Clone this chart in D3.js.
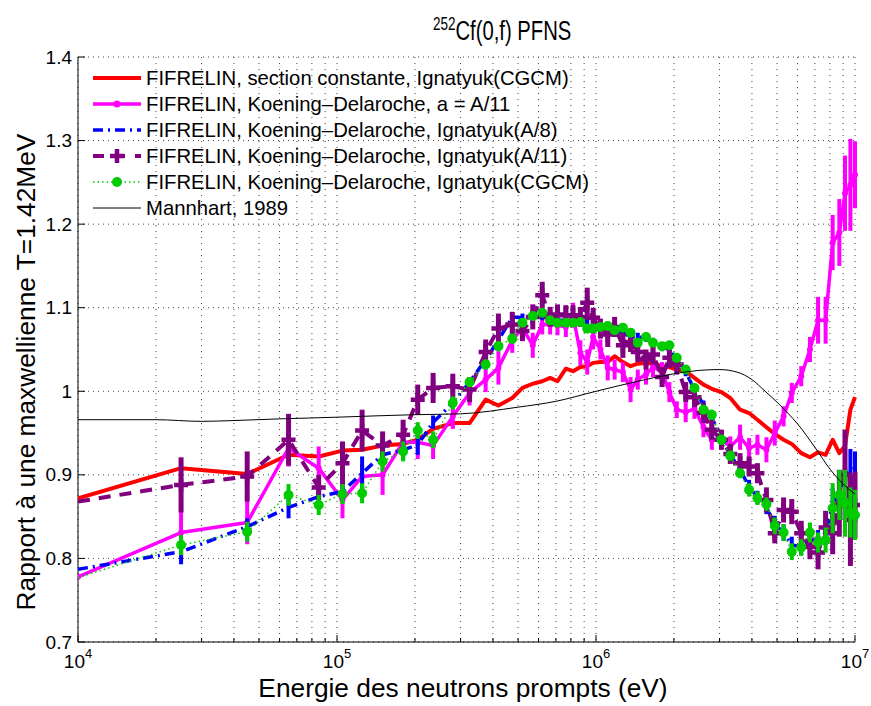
<!DOCTYPE html>
<html><head><meta charset="utf-8">
<script src="https://cdn.jsdelivr.net/npm/d3@7"></script>
<style>
body{margin:0;background:#fff;}
text{font-family:"Liberation Sans", Arial, Helvetica, sans-serif;fill:#000;}
</style></head><body>
<svg id="c" width="871" height="706"></svg>
<script>
// ---- data ----
const energy = [1e4,2.5e4,4.5e4,6.5e4,8.5e4,1.05e5,1.25e5,1.5e5,1.8e5,2.05e5,
  2.35e5,2.8e5,3.25e5,3.75e5,4.2e5,4.75e5,5.2e5,5.7e5,6.2e5,6.65e5,
  7.1e5,7.65e5,8.15e5,8.7e5,9.25e5,9.75e5,1.04e6,1.11e6,1.18e6,1.27e6,
  1.36e6,1.45e6,1.56e6,1.66e6,1.8e6,1.92e6,2.05e6,2.22e6,2.4e6,2.6e6,
  2.8e6,3.05e6,3.3e6,3.6e6,3.9e6,4.2e6,4.55e6,4.9e6,5.3e6,5.7e6,
  6.2e6,6.7e6,7.2e6,7.7e6,8.2e6,8.7e6,9.15e6,9.6e6,1e7];

const redValues = [0.872,0.908,0.901,0.924,0.922,0.929,0.930,0.935,0.937,0.942,
  0.955,0.962,0.962,0.990,0.983,0.992,1.004,1.009,1.012,1.016,
  1.012,1.027,1.024,1.029,1.030,1.034,1.035,1.035,1.042,1.035,
  1.030,1.033,1.034,1.033,1.030,1.029,1.026,1.024,1.016,1.008,
  1.003,0.999,0.992,0.978,0.974,0.966,0.957,0.949,0.942,0.937,
  0.926,0.921,0.927,0.924,0.942,0.926,0.935,0.978,0.993];

const magentaValues = [0.778,0.831,0.843,0.932,0.908,0.870,0.898,0.900,0.939,0.939,
  0.935,0.970,0.998,1.014,1.028,1.061,1.076,1.055,1.080,1.080,
  1.079,1.077,1.091,1.046,1.035,1.065,1.050,1.028,1.026,1.023,
  1.002,1.014,1.020,1.029,1.023,0.999,0.978,0.975,0.979,0.957,
  0.942,0.942,0.934,0.945,0.932,0.936,0.930,0.950,0.970,0.998,
  1.018,1.050,1.085,1.085,1.178,1.190,1.237,1.247,1.259];
const magentaErr = [0,0.03,0.026,0.022,0.026,0.022,0.015,0.024,0.02,0.02,
  0.016,0.015,0.015,0.015,0.02,0.015,0.012,0.015,0.012,0.012,
  0.012,0.012,0.015,0.015,0.015,0.015,0.012,0.015,0.012,0.012,
  0.015,0.012,0.012,0.012,0.012,0.012,0.01,0.012,0.012,0.012,
  0.012,0.012,0.012,0.015,0.012,0.012,0.015,0.015,0.012,0.012,
  0.012,0.015,0.028,0.028,0.033,0.04,0.045,0.055,0.04];

const blueValues = [0.787,0.808,0.838,0.861,0.874,0.880,0.902,0.924,0.930,0.936,
  0.963,0.986,1.011,1.038,1.061,1.089,1.088,1.088,1.090,1.088,
  1.085,1.085,1.085,1.085,1.083,1.077,1.077,1.076,1.073,1.070,
  1.065,1.065,1.064,1.059,1.053,1.050,1.038,1.023,1.002,0.984,
  0.968,0.946,0.924,0.906,0.886,0.873,0.861,0.841,0.831,0.816,
  0.814,0.822,0.822,0.831,0.864,0.882,0.896,0.906,0.908];
const blueErr = [0,0.015,0.01,0.013,0.01,0.01,0.02,0.01,0.012,0.012,
  0.008,0.006,0.006,0.006,0.006,0.006,0.005,0.005,0.005,0.005,
  0.005,0.005,0.005,0.005,0.005,0.005,0.005,0.005,0.005,0.005,
  0.005,0.005,0.005,0.005,0.005,0.005,0.005,0.005,0.005,0.005,
  0.006,0.006,0.006,0.006,0.008,0.008,0.008,0.01,0.01,0.01,
  0.01,0.012,0.012,0.015,0.02,0.02,0.025,0.025,0.02];

const purpleValues = [0.868,0.888,0.898,0.942,0.885,0.914,0.953,0.935,0.948,0.990,
  1.004,1.006,1.002,1.047,1.075,1.080,1.072,1.089,1.115,1.089,
  1.092,1.091,1.091,1.089,1.106,1.088,1.075,1.068,1.077,1.055,
  1.059,1.047,1.038,1.044,1.017,1.040,1.032,0.999,0.993,0.974,
  0.954,0.942,0.925,0.914,0.910,0.902,0.870,0.830,0.858,0.856,
  0.830,0.814,0.807,0.837,0.830,0.866,0.900,0.846,0.864];
const purpleErr = [0,0.033,0.030,0.031,0.015,0.026,0.025,0.017,0.018,0.018,
  0.018,0.015,0.015,0.015,0.018,0.015,0.012,0.015,0.016,0.012,
  0.012,0.012,0.012,0.012,0.018,0.012,0.012,0.015,0.012,0.015,
  0.012,0.012,0.012,0.012,0.012,0.012,0.012,0.012,0.012,0.012,
  0.012,0.012,0.012,0.012,0.012,0.012,0.015,0.012,0.015,0.015,
  0.015,0.015,0.02,0.02,0.025,0.04,0.054,0.055,0.04];

const greenValues = [0.777,0.816,0.832,0.876,0.864,0.877,0.878,0.916,0.928,0.953,
  0.942,0.986,1.011,1.032,1.054,1.063,1.082,1.090,1.094,1.085,
  1.082,1.082,1.082,1.083,1.075,1.075,1.077,1.078,1.073,1.076,
  1.070,1.058,1.065,1.058,1.054,1.055,1.040,1.026,1.004,0.978,
  0.972,0.942,0.923,0.902,0.882,0.872,0.865,0.839,0.831,0.808,
  0.813,0.831,0.819,0.822,0.860,0.876,0.866,0.855,0.852];
const greenErr = [0,0.012,0.012,0.013,0.012,0.012,0.012,0.012,0.012,0.01,
  0.01,0.008,0.006,0.006,0.006,0.006,0.005,0.005,0.005,0.005,
  0.005,0.005,0.005,0.005,0.005,0.005,0.005,0.005,0.005,0.005,
  0.005,0.005,0.005,0.005,0.005,0.005,0.005,0.005,0.005,0.005,
  0.006,0.006,0.006,0.006,0.008,0.008,0.008,0.01,0.01,0.01,
  0.01,0.012,0.012,0.015,0.03,0.03,0.04,0.03,0.03];

const mannhartEnergy = [1e4,2e4,3e4,4e4,6e4,1e5,2e5,3e5,5e5,7e5,1e6,1.5e6,2e6,2.5e6,3e6,3.5e6,4e6,4.5e6,5e6,5.5e6,6e6,7e6,8e6,9e6,1e7];
const mannhartValues = [0.966,0.966,0.964,0.965,0.967,0.969,0.972,0.973,0.981,0.988,1.0,1.013,1.021,1.025,1.026,1.023,1.014,1.0,0.987,0.974,0.961,0.933,0.907,0.889,0.877];

const yTickValues = [0.7,0.8,0.9,1.0,1.1,1.2,1.3,1.4];
const yTickLabels = ["0.7","0.8","0.9","1","1.1","1.2","1.3","1.4"];
const xTickValues = [1e4,1e5,1e6,1e7];
const xTickExponents = ["4","5","6","7"];
const legendLabels = [
  "FIFRELIN, section constante, Ignatyuk(CGCM)",
  "FIFRELIN, Koening\u2013Delaroche, a = A/11",
  "FIFRELIN, Koening\u2013Delaroche, Ignatyuk(A/8)",
  "FIFRELIN, Koening\u2013Delaroche, Ignatyuk(A/11)",
  "FIFRELIN, Koening\u2013Delaroche, Ignatyuk(CGCM)",
  "Mannhart, 1989"];

// ---- drawing ----
const svg = d3.select("#c");
const L=78, R=855, T=57, B=642;
const x = d3.scaleLog().domain([1e4,1e7]).range([L,R]);
const y = d3.scaleLinear().domain([0.7,1.4]).range([B,T]);

// grid
const minor = [];
[1e4,1e5,1e6].forEach(d=>{for(let k=1;k<10;k++) minor.push(k*d);});
minor.push(1e7);
const g = svg.append("g");
g.selectAll(".vg").data(minor).enter().append("line")
  .attr("x1",d=>x(d)).attr("x2",d=>x(d)).attr("y1",T).attr("y2",B)
  .attr("stroke","#444").attr("stroke-width",1).attr("stroke-dasharray","1,5");
g.selectAll(".hg").data(yTickValues).enter().append("line")
  .attr("x1",L).attr("x2",R).attr("y1",d=>y(d)).attr("y2",d=>y(d))
  .attr("stroke","#444").attr("stroke-width",1).attr("stroke-dasharray","1,4");

// axes
const ax = svg.append("g");
ax.append("line").attr("x1",L).attr("x2",L).attr("y1",T).attr("y2",B).attr("stroke","#000");
ax.append("line").attr("x1",L).attr("x2",R).attr("y1",B).attr("y2",B).attr("stroke","#000");
ax.selectAll(".yt").data(yTickValues).enter().append("line")
  .attr("x1",L).attr("x2",L+7).attr("y1",d=>y(d)).attr("y2",d=>y(d)).attr("stroke","#000");
ax.selectAll(".xt").data(minor).enter().append("line")
  .attr("x1",d=>x(d)).attr("x2",d=>x(d)).attr("y1",B)
  .attr("y2",d=>xTickValues.includes(d)?B-7:B-4).attr("stroke","#000");
ax.selectAll(".yl").data(yTickValues).enter().append("text")
  .attr("x",L-6).attr("y",d=>y(d)+6.5).attr("text-anchor","end")
  .attr("font-size",19).text((d,i)=>yTickLabels[i]);
xTickValues.forEach((d,i)=>{
  const t = ax.append("text").attr("x",x(d)).attr("y",668).attr("text-anchor","middle").attr("font-size",19);
  t.append("tspan").text("10");
  t.append("tspan").attr("dy",-10).attr("font-size",13).text(xTickExponents[i]);
});

// title & labels
const title = svg.append("text").attr("transform","translate(433,40) scale(0.75,1)").attr("font-size",27);
title.append("tspan").attr("dy",-10).attr("font-size",18).text("252");
title.append("tspan").attr("dy",10).text("Cf(0,f) PFNS");
svg.append("text").attr("x",463).attr("y",697).attr("text-anchor","middle").attr("font-size",26.3)
  .text("Energie des neutrons prompts (eV)");
svg.append("text").attr("transform","translate(35,372) rotate(-90)").attr("text-anchor","middle")
  .attr("font-size",26.3).text("Rapport \u00e0 une maxwellienne T=1.42MeV");

// data
svg.append("clipPath").attr("id","clip").append("rect").attr("x",L).attr("y",T-20).attr("width",R-L+5).attr("height",B-T+20);
const plot = svg.append("g").attr("clip-path","url(#clip)");
const line = d3.line().x(d=>x(d[0])).y(d=>y(d[1]));
function pts(vals){return energy.map((e,i)=>[e,vals[i]]);}
function errbars(vals, errs, color, w){
  plot.append("g").selectAll("line").data(energy.map((e,i)=>[e,vals[i],errs[i]]).filter(d=>d[2]>0))
    .enter().append("line").attr("x1",d=>x(d[0])).attr("x2",d=>x(d[0]))
    .attr("y1",d=>y(d[1]-d[2])).attr("y2",d=>y(d[1]+d[2]))
    .attr("stroke",color).attr("stroke-width",w);
}
const COL = {red:"#ff0000", mag:"#ff00ff", blue:"#0000ff", pur:"#800080", grn:"#00cc00"};

// red
plot.append("path").attr("d",line(pts(redValues))).attr("fill","none").attr("stroke",COL.red)
  .attr("stroke-width",4).attr("stroke-linejoin","round");
// magenta
errbars(magentaValues, magentaErr, COL.mag, 4);
plot.append("path").attr("d",line(pts(magentaValues))).attr("fill","none").attr("stroke",COL.mag)
  .attr("stroke-width",3.5).attr("stroke-linejoin","round");
plot.append("g").selectAll("circle").data(pts(magentaValues)).enter().append("circle")
  .attr("cx",d=>x(d[0])).attr("cy",d=>y(d[1])).attr("r",3).attr("fill",COL.mag);
// blue
errbars(blueValues, blueErr, COL.blue, 4);
plot.append("path").attr("d",line(pts(blueValues))).attr("fill","none").attr("stroke",COL.blue)
  .attr("stroke-width",3.5).attr("stroke-dasharray","10,5,2,5");
// purple
errbars(purpleValues, purpleErr, COL.pur, 5);
plot.append("path").attr("d",line(pts(purpleValues))).attr("fill","none").attr("stroke",COL.pur)
  .attr("stroke-width",4).attr("stroke-dasharray","12,9");
plot.append("g").selectAll("path").data(pts(purpleValues).slice(1)).enter().append("path")
  .attr("d",d=>`M${x(d[0])-7},${y(d[1])}H${x(d[0])+7}M${x(d[0])},${y(d[1])-7}V${y(d[1])+7}`)
  .attr("stroke",COL.pur).attr("stroke-width",4.5);
// green
errbars(greenValues, greenErr, COL.grn, 4);
plot.append("path").attr("d",line(pts(greenValues))).attr("fill","none").attr("stroke",COL.grn)
  .attr("stroke-width",1.5).attr("stroke-dasharray","1.5,3");
plot.append("g").selectAll("circle").data(pts(greenValues).slice(1)).enter().append("circle")
  .attr("cx",d=>x(d[0])).attr("cy",d=>y(d[1])).attr("r",5).attr("fill",COL.grn);
// Mannhart
plot.append("path")
  .attr("d", d3.line().curve(d3.curveMonotoneX).x(d=>x(d[0])).y(d=>y(d[1]))(mannhartEnergy.map((e,i)=>[e,mannhartValues[i]])))
  .attr("fill","none").attr("stroke","#000").attr("stroke-width",1);

// legend
const lg = svg.append("g");
const ly0 = 78, ldy = 26;
const lx1 = 93, lx2 = 141, lxm = 117;
legendLabels.forEach((lab,i)=>{
  const yy = ly0 + i*ldy;
  lg.append("text").attr("x",146).attr("y",yy+7).attr("font-size",20.3).text(lab);
});
lg.append("line").attr("x1",lx1).attr("x2",lx2).attr("y1",ly0).attr("y2",ly0).attr("stroke",COL.red).attr("stroke-width",4);
lg.append("line").attr("x1",lx1).attr("x2",lx2).attr("y1",ly0+ldy).attr("y2",ly0+ldy).attr("stroke",COL.mag).attr("stroke-width",3.5);
lg.append("circle").attr("cx",lxm).attr("cy",ly0+ldy).attr("r",3.5).attr("fill",COL.mag);
lg.append("line").attr("x1",lx1).attr("x2",lx2).attr("y1",ly0+2*ldy).attr("y2",ly0+2*ldy).attr("stroke",COL.blue).attr("stroke-width",3.5).attr("stroke-dasharray","10,5,2,5");
lg.append("line").attr("x1",lx1).attr("x2",lx2).attr("y1",ly0+3*ldy).attr("y2",ly0+3*ldy).attr("stroke",COL.pur).attr("stroke-width",4).attr("stroke-dasharray","11,10");
lg.append("path").attr("d",`M${lxm-7},${ly0+3*ldy}H${lxm+7}M${lxm},${ly0+3*ldy-7}V${ly0+3*ldy+7}`).attr("stroke",COL.pur).attr("stroke-width",4.5);
lg.append("line").attr("x1",lx1).attr("x2",lx2).attr("y1",ly0+4*ldy).attr("y2",ly0+4*ldy).attr("stroke",COL.grn).attr("stroke-width",1.5).attr("stroke-dasharray","1.5,3");
lg.append("circle").attr("cx",lxm).attr("cy",ly0+4*ldy).attr("r",5).attr("fill",COL.grn);
lg.append("line").attr("x1",lx1).attr("x2",lx2).attr("y1",ly0+5*ldy).attr("y2",ly0+5*ldy).attr("stroke","#000").attr("stroke-width",1);
</script>
</body></html>
